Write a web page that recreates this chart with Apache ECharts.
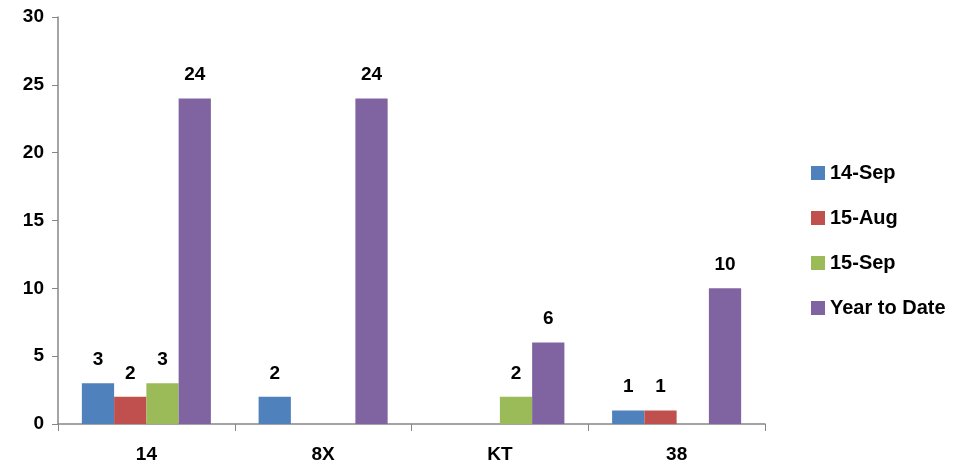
<!DOCTYPE html>
<html>
<head>
<meta charset="utf-8">
<script src="https://cdn.jsdelivr.net/npm/echarts@6/dist/echarts.min.js"></script>
<style>
  html, body { margin: 0; padding: 0; background: #fff; }
  #myChart { width: 953px; height: 466px; }
</style>
</head>
<body>
<div id="myChart"></div>
<script>
// categories and series (null = no bar)
var categories = ['14', '8X', 'KT', '38'];
var sep14 = [3, 2, null, 1];
var aug15 = [2, null, null, 1];
var sep15 = [3, null, 2, null];
var ytd = [24, 24, 6, 10];
var yTicks = { min: 0, max: 30, interval: 5 };

var font = 'Liberation Sans, Arial, sans-serif';
var labelStyle = { show: true, position: 'top', fontSize: 19, fontWeight: 'bold', color: '#000', fontFamily: font, distance: 14 };

function bar(name, data, color) {
    return {
        name: name,
        type: 'bar',
        data: data,
        barGap: '0%',
        barCategoryGap: '27%',
        itemStyle: { color: color },
        label: labelStyle
    };
}

var option = {
    animation: false,
    grid: { left: 58, right: 188, top: 17, bottom: 42 },
    legend: {
        orient: 'vertical',
        left: 806,
        top: 158,
        itemWidth: 14,
        itemHeight: 14,
        itemGap: 25,
        icon: 'rect',
        textStyle: { fontSize: 20, fontWeight: 'bold', color: '#000', fontFamily: font },
        data: ['14-Sep', '15-Aug', '15-Sep', 'Year to Date']
    },
    xAxis: {
        type: 'category',
        data: categories,
        axisLine: { lineStyle: { color: '#868686', width: 1.5 } },
        axisTick: { show: true, alignWithLabel: false, length: 7, lineStyle: { color: '#868686' } },
        axisLabel: { fontSize: 19, fontWeight: 'bold', color: '#000', fontFamily: font, margin: 21 }
    },
    yAxis: {
        type: 'value',
        min: yTicks.min,
        max: yTicks.max,
        interval: yTicks.interval,
        splitLine: { show: false },
        axisLine: { show: true, lineStyle: { color: '#868686', width: 1.5 } },
        axisTick: { show: true, length: 6, lineStyle: { color: '#868686' } },
        axisLabel: { fontSize: 19, fontWeight: 'bold', color: '#000', fontFamily: font, margin: 14 }
    },
    series: [
        bar('14-Sep', sep14, '#4f81bd'),
        bar('15-Aug', aug15, '#c0504d'),
        bar('15-Sep', sep15, '#9bbb59'),
        bar('Year to Date', ytd, '#8064a2')
    ]
};

var myChart = echarts.init(document.getElementById('myChart'));
myChart.setOption(option);
</script>
</body>
</html>
